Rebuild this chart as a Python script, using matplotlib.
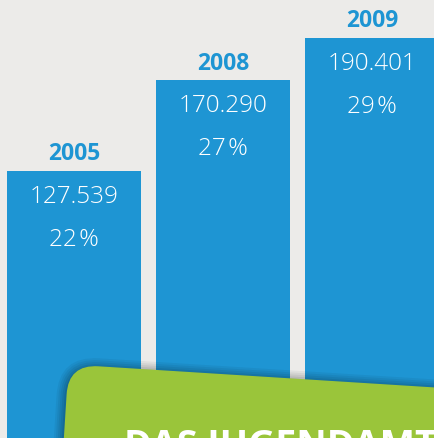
import matplotlib
matplotlib.use("Agg")
import matplotlib.pyplot as plt
from matplotlib.patches import FancyBboxPatch
from matplotlib.transforms import Affine2D

years = ["2005", "2008", "2009"]
values = [127.539, 170.290, 190.401]
value_labels = ["127.539", "170.290", "190.401"]
percent_labels = ["22\u200a%", "27\u200a%", "29\u200a%"]
banner_text = "DAS JUGENDAMT"

BG = "#ecebe9"
BLUE = "#1e95d3"
GREEN = "#9ac53a"

W, H = 435, 439
fig = plt.figure(figsize=(W / 100, H / 100), dpi=100, facecolor=BG)
ax = fig.add_axes([0, 0, 1, 1])
ax.set_facecolor(BG)

x = list(range(len(values)))
ax.bar(x, values, width=0.899, color=BLUE, zorder=2)
ax.set_xlim(-0.4966, 2.4228)
ax.set_ylim(1.32, 208.8)
ax.axis("off")

for xi, v, yl, vl, pl in zip(x, values, years, value_labels, percent_labels):
    ax.annotate(yl, (xi, v), xytext=(0, 17.5 * 0.72), textcoords="offset points",
                ha="center", va="center", fontsize=16.5, fontweight="bold",
                color=BLUE, family="Open Sans")
    ax.annotate(vl, (xi, v), xytext=(0, -25 * 0.72), textcoords="offset points",
                ha="center", va="center", fontsize=17.5, fontweight="light",
                color="white", family="Open Sans")
    ax.annotate(pl, (xi, v), xytext=(0, -68 * 0.72), textcoords="offset points",
                ha="center", va="center", fontsize=17.5, fontweight="light",
                color="white", family="Open Sans")

# overlay in pixel coordinates for the green banner
ov = fig.add_axes([0, 0, 1, 1], facecolor="none")
ov.set_xlim(0, W)
ov.set_ylim(H, 0)
ov.axis("off")

cx, cy = 68.5, 365.4
rot = Affine2D().rotate_deg_around(cx, cy, 3.6) + ov.transData
# shadow
for i, a in enumerate([0.05, 0.05, 0.06, 0.07, 0.08]):
    grow = 10 - 2 * i
    sh = FancyBboxPatch((cx - grow, cy - grow + 2), 600 + 2 * grow, 300,
                        boxstyle=f"round,pad=0,rounding_size={30 + grow}",
                        facecolor="black", edgecolor="none", alpha=a,
                        transform=rot, zorder=3)
    ov.add_patch(sh)
banner = FancyBboxPatch((cx, cy), 600, 300, boxstyle="round,pad=0,rounding_size=30",
                        facecolor=GREEN, edgecolor="none", transform=rot, zorder=4)
ov.add_patch(banner)
ov.text(124, 427, banner_text, ha="left", va="top", fontsize=27, fontweight="bold",
        color="white", family="Open Sans", zorder=5)

fig.savefig("out.png", dpi=100, facecolor=BG)
